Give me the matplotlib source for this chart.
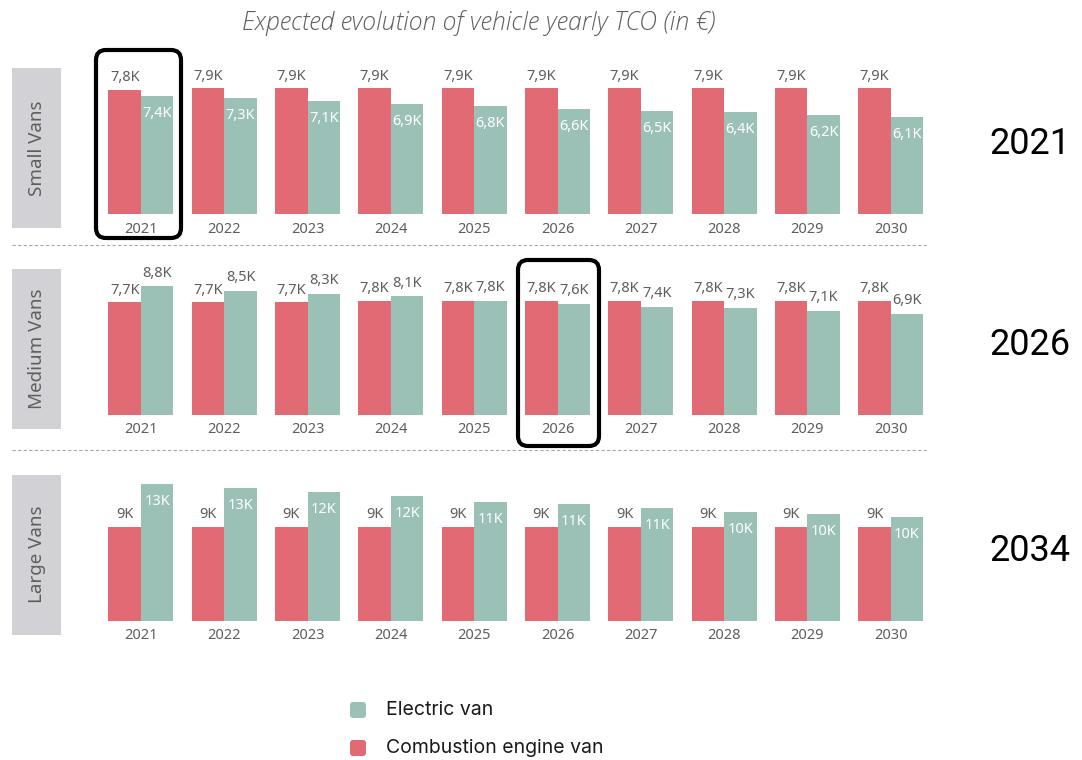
import matplotlib.pyplot as plt
from matplotlib.patches import FancyBboxPatch, Rectangle
from matplotlib.lines import Line2D
from matplotlib.transforms import IdentityTransform

# Data (thousand euros per year)
years = ["2021", "2022", "2023", "2024", "2025", "2026", "2027", "2028", "2029", "2030"]
panels = ["Small Vans", "Medium Vans", "Large Vans"]
scenario_years = ["2021", "2026", "2034"]

combustion_small = [7.8, 7.9, 7.9, 7.9, 7.9, 7.9, 7.9, 7.9, 7.9, 7.9]
electric_small = [7.4, 7.3, 7.1, 6.9, 6.8, 6.6, 6.5, 6.4, 6.2, 6.1]
combustion_medium = [7.7, 7.7, 7.7, 7.8, 7.8, 7.8, 7.8, 7.8, 7.8, 7.8]
electric_medium = [8.8, 8.5, 8.3, 8.1, 7.8, 7.6, 7.4, 7.3, 7.1, 6.9]
combustion_large = [9.0, 9.0, 9.0, 9.0, 9.0, 9.0, 9.0, 9.0, 9.0, 9.0]
electric_large = [13.1, 12.7, 12.3, 11.9, 11.4, 11.2, 10.8, 10.4, 10.2, 9.9]

combustion = [combustion_small, combustion_medium, combustion_large]
electric = [electric_small, electric_medium, electric_large]
label_decimals = [1, 1, 0]

# Styling
RED = "#E26A74"
GREEN = "#9BC1B7"
GREY_TXT = "#605E5C"
W, H = 1082, 760

plt.rcParams['font.family'] = ['Noto Sans', 'DejaVu Sans']

fig = plt.figure(figsize=(W / 100, H / 100), dpi=100)

baselines = [214, 414.7, 620.7]
ymax = [10.06, 10.96, 15.31]
electric_inside = [True, False, True]
ax_h = 160
bw = 0.39


def fmt(v, d):
    s = f"{v:.{d}f}K".replace(".", ",")
    return s


for p in range(3):
    base = baselines[p]
    ax = fig.add_axes([91 / W, 1 - base / H, 849.7 / W, ax_h / H])
    x = list(range(len(years)))
    xc = [i - bw / 2 for i in x]
    xe = [i + bw / 2 for i in x]
    ax.bar(xc, combustion[p], width=bw, color=RED)
    ax.bar(xe, electric[p], width=bw, color=GREEN)
    ax.set_xlim(-0.6, 9.6)
    ax.set_ylim(0, ymax[p])
    for s in ax.spines.values():
        s.set_visible(False)
    ax.set_yticks([])
    ax.set_xticks(x)
    ax.set_xticklabels(years, fontsize=10.5, color=GREY_TXT)
    ax.tick_params(axis='x', length=0, pad=5.5)
    ax.patch.set_alpha(0)

    for i in x:
        ax.annotate(fmt(combustion[p][i], label_decimals[p]), (xc[i], combustion[p][i]),
                    xytext=(0, 8.8), textcoords='offset points', ha='center', va='center',
                    fontsize=10.5, color=GREY_TXT)
        if electric_inside[p]:
            ax.annotate(fmt(electric[p][i], label_decimals[p]), (xe[i], electric[p][i]),
                        xytext=(0, -12.6), textcoords='offset points', ha='center', va='center',
                        fontsize=10.5, color="white")
        else:
            ax.annotate(fmt(electric[p][i], label_decimals[p]), (xe[i], electric[p][i]),
                        xytext=(0, 9.5), textcoords='offset points', ha='center', va='center',
                        fontsize=10.5, color=GREY_TXT)

    # grey side label box
    fig.add_artist(Rectangle((12, H - (base + 14)), 49, 160, transform=IdentityTransform(),
                             facecolor="#D2D2D6", edgecolor="none"))
    fig.text(37.5 / W, 1 - (base + 14 - 80) / H, panels[p], rotation=90, ha='center', va='center',
             fontsize=13.5, color=GREY_TXT)

    # scenario year on the right
    fig.text(1030 / W, 1 - (base - 70) / H, scenario_years[p], ha='center', va='center',
             fontsize=26, family='Roboto', color='black')

# dashed separators
for yy in [245, 450]:
    fig.add_artist(Line2D([12 / W, 928 / W], [1 - yy / H, 1 - yy / H], transform=fig.transFigure,
                          color="#A8A8A8", lw=0.8, linestyle=(0, (3, 2))))

# highlight boxes
for (x0, y0, x1, y1) in [(96, 50, 181, 238), (518, 260, 599, 446)]:
    fig.add_artist(FancyBboxPatch((x0, H - y1), x1 - x0, y1 - y0, boxstyle="round,pad=0,rounding_size=10",
                                  transform=IdentityTransform(), facecolor="none", edgecolor="black", lw=3))

# title
fig.text(479 / W, 1 - 23 / H, "Expected evolution of vehicle yearly TCO (in €)", ha='center', va='center',
         fontsize=17.8, style='italic', color=GREY_TXT, family='Open Sans', weight='light')

# legend
legend_labels = ["Electric van", "Combustion engine van"]
legend_colors = [GREEN, RED]
for k, (lab, col) in enumerate(zip(legend_labels, legend_colors)):
    yc = 710 + 38 * k
    fig.add_artist(FancyBboxPatch((350, H - yc - 8), 16, 16, boxstyle="round,pad=0,rounding_size=3",
                                  transform=IdentityTransform(), facecolor=col, edgecolor="none"))
    fig.text(386 / W, 1 - yc / H, lab, ha='left', va='center', fontsize=14, family='Inter', color="#1A1A1A")

fig.savefig("out.png", dpi=100)
